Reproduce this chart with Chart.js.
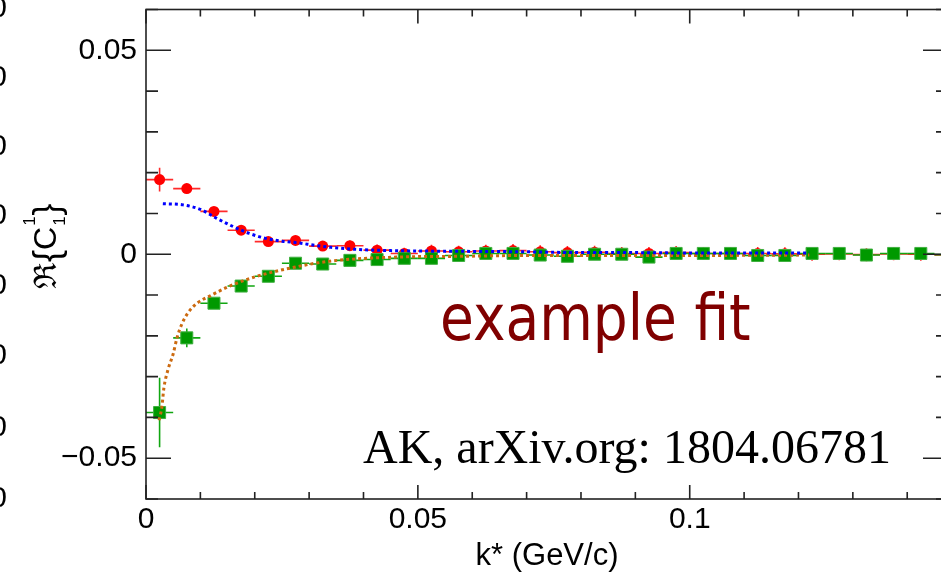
<!DOCTYPE html>
<html><head><meta charset="utf-8">
<script src="https://cdn.jsdelivr.net/npm/chart.js@4.4.1/dist/chart.umd.min.js"></script>
<style>
html,body{margin:0;padding:0;background:#fff;overflow:hidden;width:941px;height:575px}
#wrap{position:absolute;left:0;top:0;width:960px;height:575px}
</style>
</head><body><div id="wrap"><canvas id="c" width="960" height="575"></canvas></div>
<script>
// ---- data ----
const kStar = [0.0025,0.0075,0.0125,0.0175,0.0225,0.0275,0.0325,0.0375,0.0425,0.0475,
               0.0525,0.0575,0.0625,0.0675,0.0725,0.0775,0.0825,0.0875,0.0925,0.0975,
               0.1025,0.1075,0.1125,0.1175,0.1225,0.1275,0.1325,0.1375,0.1425,0.1475];
const binHalfWidth = 0.0025;
const reC_red = [0.0183,0.0161,0.0105,0.0059,0.0031,0.0034,0.0020,0.0021,0.0010,0.0002,
                 0.0008,0.0006,0.0008,0.0009,0.0006,0.0004,0.0005,0.0002,0.0002,0.0004,
                 0.0002,0.0002,0.0002,0.0001,0.0000,0.0001,-0.0001,0.0001,0.0000,-0.0002];
const errRed = [0.0029,0.0012,0.0010,0.0010,0.0010,0.0012,0.0012,0.0013,0.0014,0.0014,
                0.0015,0.0015,0.0015,0.0016,0.0016,0.0016,0.0016,0.0016,0.0016,0.0016,
                0.0016,0.0016,0.0016,0.0016,0.0016,0.0016,0.0016,0.0016,0.0016,0.0016];
const reC_green = [-0.0388,-0.0205,-0.0120,-0.0078,-0.0054,-0.0022,-0.0024,-0.0015,-0.0013,-0.0010,
                   -0.0010,-0.0003,0.0002,0.0002,-0.0002,-0.0005,0.0000,0.0000,-0.0007,0.0002,
                   0.0002,0.0002,-0.0003,-0.0003,0.0002,0.0002,-0.0002,0.0002,0.0002,-0.0001];
const errGreen = [0.0085,0.0023,0.0012,0.0010,0.0010,0.0010,0.0010,0.0010,0.0010,0.0010,
                  0.0010,0.0010,0.0010,0.0010,0.0010,0.0010,0.0010,0.0010,0.0010,0.0010,
                  0.0010,0.0010,0.0010,0.0010,0.0010,0.0010,0.0010,0.0010,0.0010,0.0010];
const fitBlueK = [0.0031,0.0068,0.0100,0.0130,0.0160,0.0190,0.0220,0.0250,0.0280,0.0310,0.0340,
                  0.0400,0.0500,0.0600,0.0700,0.0800,0.0900,0.1000,0.1100,0.1220];
const fitBlueV = [0.0124,0.0121,0.0110,0.0088,0.0068,0.0051,0.0039,0.0032,0.0028,0.0022,0.0017,
                  0.0011,0.0008,0.0007,0.0006,0.0004,0.0004,0.0003,0.0003,0.0003];
const fitOrangeK = [0.0024,0.0029,0.0033,0.0040,0.0050,0.0057,0.0066,0.0077,0.0094,0.0118,0.0154,
                    0.0204,0.0265,0.0338,0.0460,0.0580,0.0700,0.0850,0.1000,0.1220];
const fitOrangeV = [-0.0407,-0.0376,-0.0327,-0.0285,-0.0244,-0.0205,-0.0171,-0.0144,-0.0120,-0.0102,-0.0078,
                    -0.0054,-0.0034,-0.0017,-0.0007,-0.0005,-0.0003,-0.0003,-0.0003,-0.0002];
const xTickLabels = [0, 0.05, 0.1];
const yTickLabels = [-0.05, 0, 0.05];
const xMinorStep = 0.01, yMinorStep = 0.01;
const xRange = [0, 0.1475], yRange = [-0.06, 0.06];

const pts = (xs, ys) => xs.map((x, i) => ({x, y: ys[i]}));
const fmt = v => v === 0 ? '0' : (v < 0 ? '\u2212' + String(-v) : String(v));
const SANS = "'Liberation Sans', Arial, sans-serif";

const errBars = {
  id: 'errBars',
  beforeDatasetDraw(chart, args) {
    const ds = chart.data.datasets[args.index];
    if (!ds.errY) return;
    const {ctx, chartArea: a, scales: {x, y}} = chart;
    ctx.save();
    ctx.beginPath(); ctx.rect(a.left, a.top, a.right - a.left, a.bottom - a.top); ctx.clip();
    ctx.strokeStyle = ds.errColor; ctx.lineWidth = 1.6;
    ds.data.forEach((p, i) => {
      const px = x.getPixelForValue(p.x), py = y.getPixelForValue(p.y);
      ctx.beginPath();
      ctx.moveTo(x.getPixelForValue(p.x - binHalfWidth), py);
      ctx.lineTo(x.getPixelForValue(p.x + binHalfWidth), py);
      ctx.moveTo(px, y.getPixelForValue(p.y - ds.errY[i]));
      ctx.lineTo(px, y.getPixelForValue(p.y + ds.errY[i]));
      ctx.stroke();
    });
    ctx.restore();
  }
};

const frame = {
  id: 'frame',
  afterDatasetsDraw(chart) {
    const {ctx, chartArea: a, scales: {x, y}} = chart;
    ctx.save();
    ctx.strokeStyle = '#222'; ctx.lineWidth = 1.6;
    ctx.strokeRect(a.left, a.top, a.right - a.left, a.bottom - a.top);
    ctx.beginPath();
    const isMajor = (arr, v) => arr.some(t => Math.abs(t - v) < 1e-9);
    for (let i = 0; ; i++) {
      const v = x.min + i * xMinorStep;
      if (v > x.max + 1e-9) break;
      const L = isMajor(xTickLabels, v) ? 14 : 7;
      const px = x.getPixelForValue(v);
      ctx.moveTo(px, a.bottom); ctx.lineTo(px, a.bottom - L);
      ctx.moveTo(px, a.top); ctx.lineTo(px, a.top + L);
    }
    for (let i = 0; ; i++) {
      const v = +(y.min + i * yMinorStep).toFixed(6);
      if (v > y.max + 1e-9) break;
      const L = isMajor(yTickLabels, v) ? 25 : 12;
      const py = y.getPixelForValue(v);
      ctx.moveTo(a.left, py); ctx.lineTo(a.left + L, py);
      ctx.moveTo(a.right, py); ctx.lineTo(a.right - L, py);
    }
    ctx.stroke();
    ctx.restore();
  }
};

const texts = {
  id: 'texts',
  afterDraw(chart) {
    const ctx = chart.ctx;
    ctx.save();
    // annotation texts
    ctx.fillStyle = '#800000';
    ctx.textBaseline = 'alphabetic'; ctx.textAlign = 'left';
    ctx.save(); ctx.translate(440, 340); ctx.scale(0.86, 1);
    ctx.font = "64px 'DejaVu Sans', sans-serif";
    ctx.fillText('example fit', 0, 0);
    ctx.restore();
    ctx.fillStyle = '#000';
    ctx.font = "48px 'Liberation Serif', 'Times New Roman', serif";
    ctx.fillText('AK, arXiv.org: 1804.06781', 363, 463);
    // y-axis title  Re{C_1^1}
    ctx.save();
    ctx.translate(56, 291); ctx.rotate(-Math.PI / 2);
    let cx = 2;
    ctx.font = "31px 'DejaVu Serif', serif";
    ctx.fillText('\u211C', cx, 0); cx += ctx.measureText('\u211C').width + 1;
    ctx.font = "36px " + SANS;
    ctx.fillText('{', cx, 3); cx += ctx.measureText('{').width;
    ctx.font = "32px " + SANS;
    ctx.fillText('C', cx, 0); cx += ctx.measureText('C').width + 1;
    ctx.font = "17px " + SANS;
    ctx.fillText('1', cx, -21);
    ctx.fillText('1', cx, 9);
    cx += ctx.measureText('1').width + 1;
    ctx.font = "36px " + SANS;
    ctx.fillText('}', cx, 3);
    ctx.restore();
    // clipped labels of the neighbouring panel at the left edge
    ctx.font = "30px " + SANS; ctx.textAlign = 'right'; ctx.textBaseline = 'middle';
    [9, 78, 147, 216, 286, 356, 428, 499].forEach(py => ctx.fillText('0', 7, py));
    ctx.restore();
  }
};

new Chart(document.getElementById('c'), {
  type: 'scatter',
  data: {
    datasets: [
      { label: 'fit blue', data: pts(fitBlueK, fitBlueV), showLine: true, borderColor: '#0000ff',
        borderWidth: 3, borderDash: [3, 3], pointRadius: 0, cubicInterpolationMode: 'monotone', order: 1 },
      { label: 'fit orange', data: pts(fitOrangeK, fitOrangeV), showLine: true, borderColor: '#cc6a10',
        borderWidth: 3, borderDash: [3, 3], pointRadius: 0, cubicInterpolationMode: 'monotone', order: 2 },
      { label: 'green', data: pts(kStar, reC_green), errY: errGreen, errColor: '#11a611',
        pointStyle: 'rect', pointRadius: 8.5, backgroundColor: '#009900', borderColor: '#40b040', borderWidth: 1, order: 3 },
      { label: 'red', data: pts(kStar, reC_red), errY: errRed, errColor: '#ff2a2a',
        pointStyle: 'circle', pointRadius: 5.5, backgroundColor: '#ff0000', borderColor: '#ff0000', borderWidth: 0, order: 4 }
    ]
  },
  options: {
    responsive: false, animation: false, devicePixelRatio: 1,
    layout: { padding: { left: 0, right: 12, top: 7, bottom: 0 } },
    plugins: { legend: { display: false }, tooltip: { enabled: false } },
    scales: {
      x: {
        type: 'linear', min: xRange[0], max: xRange[1],
        grid: { display: false, drawTicks: false }, border: { display: false },
        afterBuildTicks: s => { s.ticks = xTickLabels.map(v => ({value: v})); },
        afterFit: s => { s.height = 76; s.paddingLeft = 0; s.paddingRight = 0; },
        ticks: { color: '#000', font: { family: SANS, size: 30 }, padding: 3, maxRotation: 0, callback: v => fmt(v) },
        title: { display: true, text: 'k* (GeV/c)', color: '#000', font: { family: SANS, size: 31 }, padding: 0 }
      },
      y: {
        type: 'linear', min: yRange[0], max: yRange[1],
        grid: { display: false, drawTicks: false }, border: { display: false },
        afterBuildTicks: s => { s.ticks = yTickLabels.map(v => ({value: v})); },
        afterFit: s => { s.width = 146; s.paddingTop = 0; s.paddingBottom = 0; },
        ticks: { color: '#000', font: { family: SANS, size: 30 }, padding: 9, callback: v => fmt(v) }
      }
    }
  },
  plugins: [errBars, frame, texts]
});
</script>
</body></html>
